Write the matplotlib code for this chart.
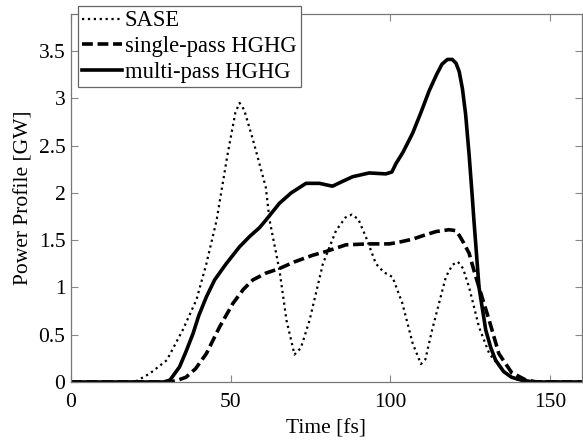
import matplotlib
matplotlib.use("Agg")
import matplotlib.pyplot as plt

# SASE (dotted)
sase_t = [0, 18, 20.5, 24.7, 30, 35, 39.3, 42.4, 45.6, 49, 51.5, 52.8, 54.2, 57, 61, 62.2, 65.3, 67.5,
          70, 72, 74.7, 78.9, 83, 86, 88, 90, 92.4, 95.5, 98, 100.7, 103.8, 107, 109.6,
          111, 113.1, 117.4, 119.5, 121.2, 122.8, 124.7, 127.8, 131, 135, 138, 141, 160]
sase_p = [0, 0, 0.01, 0.09, 0.23, 0.55, 0.87, 1.25, 1.71, 2.4, 2.85, 2.95, 2.88, 2.56, 2.06, 1.71, 1.18, 0.65,
          0.29, 0.36, 0.65, 1.25, 1.6, 1.74, 1.77, 1.72, 1.53, 1.25, 1.16, 1.11, 0.83, 0.41, 0.19,
          0.24, 0.55, 1.11, 1.24, 1.27, 1.2, 1.0, 0.58, 0.3, 0.13, 0.05, 0.01, 0]

# single-pass HGHG (dashed)
single_t = [0, 31, 33.5, 36, 39, 42.4, 46.5, 50.7, 54, 57, 61, 65.3, 70, 75.7, 79.9, 86.1, 93,
            99.7, 103, 107, 110.5, 114.3, 118.4, 120.5, 121.6, 123, 124.7, 126.2, 127.8, 131,
            134, 138, 142.5, 146, 160]
single_p = [0, 0, 0.02, 0.05, 0.14, 0.3, 0.58, 0.83, 0.98, 1.08, 1.15, 1.2, 1.27, 1.34, 1.38, 1.45, 1.46,
            1.46, 1.48, 1.51, 1.55, 1.59, 1.61, 1.6, 1.55, 1.47, 1.36, 1.18, 1.0, 0.65,
            0.3, 0.1, 0.02, 0, 0]

# multi-pass HGHG (solid)
multi_t = [0, 29, 31, 34, 36, 38.2, 40, 42.4, 45, 48.6, 52.8, 56, 59, 61, 65.3, 69, 73.6, 77.8,
           81.9, 85, 88.2, 93.4, 98.6, 100.5, 101.8, 104, 107, 109.5, 112.2, 114.5, 116.2, 117.9,
           119.4, 120.6, 121.6, 122.6, 123.6, 124.7, 125.7, 126.2, 127.8, 129.9, 131.5, 133,
           135.5, 138, 141, 145, 160]
multi_p = [0, 0, 0.02, 0.16, 0.32, 0.51, 0.7, 0.9, 1.08, 1.25, 1.43, 1.54, 1.63, 1.71, 1.89, 2.0, 2.1, 2.1,
           2.07, 2.12, 2.17, 2.21, 2.2, 2.22, 2.31, 2.43, 2.63, 2.84, 3.08, 3.25, 3.36, 3.41,
           3.41, 3.37, 3.28, 3.1, 2.83, 2.4, 1.95, 1.71, 1.0, 0.55, 0.36, 0.23,
           0.11, 0.05, 0.02, 0, 0]

plt.rcParams["font.family"] = ["Liberation Serif", "DejaVu Serif"]
fs = 15.5

fig = plt.figure(figsize=(5.83, 4.41), dpi=100)
ax = fig.add_axes([0.1218, 0.1338, 0.8762, 0.8344])

ax.plot(sase_t, sase_p, color="black", linestyle=":", linewidth=1.6, label="SASE")
ax.plot(single_t, single_p, color="black", linestyle=(0, (3, 1.3)), linewidth=2.6,
        label="single-pass HGHG")
ax.plot(multi_t, multi_p, color="black", linestyle="-", linewidth=2.6, label="multi-pass HGHG")

ax.set_xlim(0, 160)
ax.set_ylim(0, 3.89)
ax.set_xticks([0, 50, 100, 150])
ax.set_yticks([0, 0.5, 1, 1.5, 2, 2.5, 3, 3.5])
ax.set_yticklabels(["0", "0.5", "1", "1.5", "2", "2.5", "3", "3.5"])
ax.tick_params(direction="in", top=True, right=True, labelsize=fs, length=5,
               color="#888888", width=0.8)
ax.tick_params(axis="x", pad=8)
ax.tick_params(axis="y", pad=4)
for s in ax.spines.values():
    s.set_color("#777777")
    s.set_linewidth(0.9)

ax.set_xlabel("Time [fs]", fontsize=fs, labelpad=5)
ax.set_ylabel("Power Profile [GW]", fontsize=fs, labelpad=4)

leg = ax.legend(loc="upper left", bbox_to_anchor=(0.013, 1.022), fontsize=16.3,
                handlelength=1.75, handletextpad=0.12, borderpad=0.2, labelspacing=0.2,
                fancybox=False, framealpha=1, borderaxespad=0)
leg.get_frame().set_edgecolor("#666666")
leg.get_frame().set_linewidth(0.9)

fig.savefig("out.png", dpi=100)
